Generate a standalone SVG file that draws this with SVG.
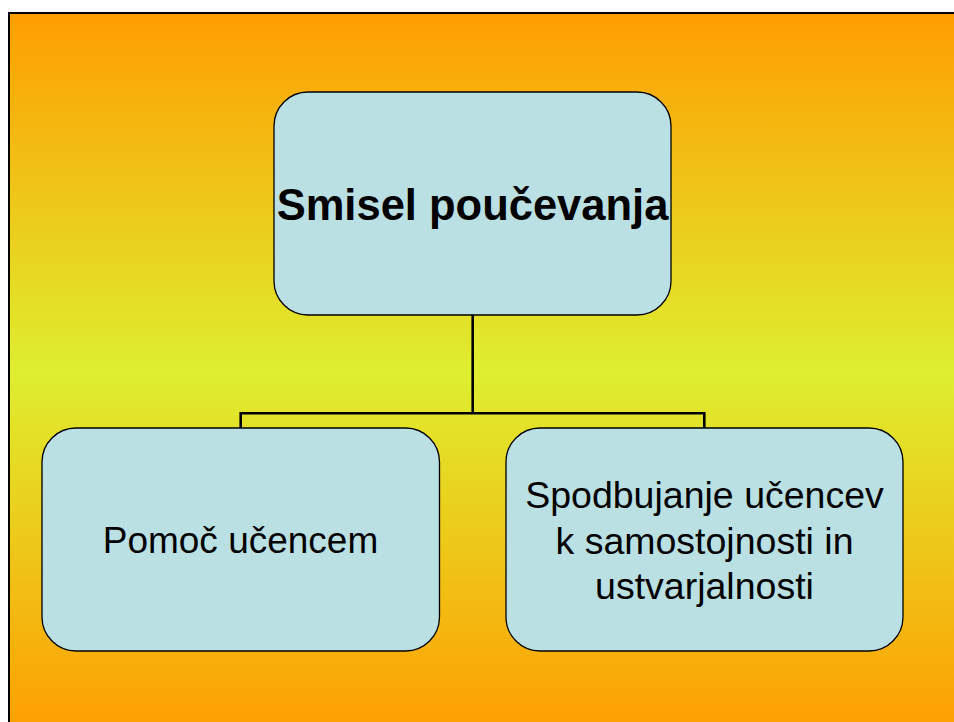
<svg xmlns="http://www.w3.org/2000/svg" width="954" height="722" viewBox="0 0 954 722">
<defs>
<linearGradient id="bg" x1="0" y1="0" x2="0" y2="1">
<stop offset="0" stop-color="#FF9E00"/>
<stop offset="0.5" stop-color="#DEEE30"/>
<stop offset="1" stop-color="#FF9E00"/>
</linearGradient>
<style>
.box{fill:#BAE0E3;stroke:#000;stroke-width:1.3}
.t{font-family:"Liberation Sans",Arial,sans-serif;fill:#000;text-anchor:middle}
.conn{fill:none;stroke:#000;stroke-width:2.6}
</style>
</defs>
<rect x="0" y="0" width="954" height="722" fill="#fff"/>
<rect x="9" y="13" width="1000" height="720" fill="url(#bg)"/>
<path d="M9 740 V13 H1000" fill="none" stroke="#000" stroke-width="2"/>
<g id="connectors">
<path class="conn" d="M472.7 315 V413.3 M240.7 428 V413.3 H704.3 V428"/>
</g>
<g id="node-top">
<rect class="box" x="274" y="92" width="397" height="223" rx="34"/>
<text class="t" x="472.5" y="220" font-size="43.5" font-weight="bold">Smisel poučevanja</text>
</g>
<g id="node-left">
<rect class="box" x="42" y="428" width="397.5" height="223" rx="34"/>
<text class="t" x="240.5" y="553" font-size="37">Pomoč učencem</text>
</g>
<g id="node-right">
<rect class="box" x="506" y="428" width="397" height="223" rx="34"/>
<text class="t" x="704.5" y="508" font-size="37.5">Spodbujanje učencev</text>
<text class="t" x="704.5" y="554" font-size="37.5">k samostojnosti in</text>
<text class="t" x="704.5" y="599" font-size="37.5">ustvarjalnosti</text>
</g>
</svg>
